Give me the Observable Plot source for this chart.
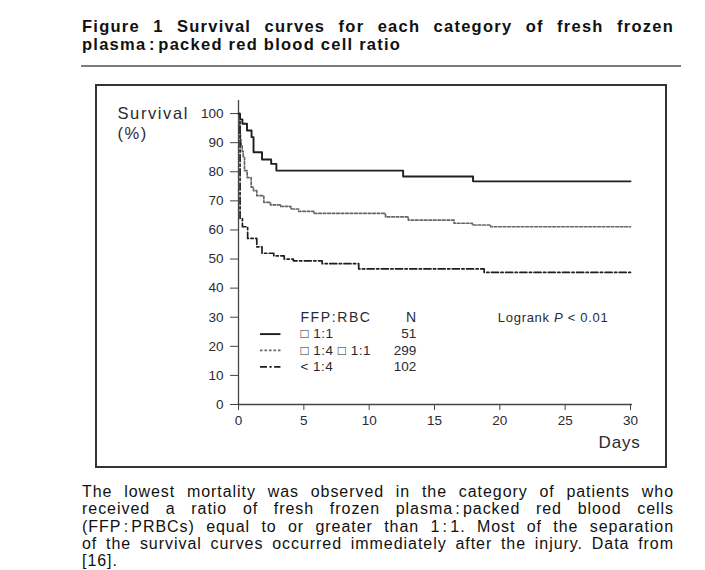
<!DOCTYPE html>
<html><head><meta charset="utf-8">
<script src="https://cdn.jsdelivr.net/npm/d3@7"></script>
<script src="https://cdn.jsdelivr.net/npm/@observablehq/plot@0.6"></script>
<style>
body{margin:0;background:#fff;width:705px;height:570px;position:relative;overflow:hidden;font-family:"Liberation Sans",Arial,Helvetica,sans-serif;color:#1a1a1a}
.jl{text-align:justify;text-align-last:justify;white-space:nowrap}
#title{position:absolute;left:82px;top:17px;width:592px;font-weight:bold;font-size:16.5px;line-height:18px;letter-spacing:1.25px;color:#111}
#rule{position:absolute;left:81px;top:65px;width:600px;height:2px;background:#7c7c7c}
#box{position:absolute;left:95px;top:84px;width:572px;height:384px;box-sizing:border-box;border:2.5px solid #333}
#chart{position:absolute;left:96px;top:85px}
#caption{position:absolute;left:82px;top:483px;width:592px;font-size:16px;line-height:17.3px;letter-spacing:0.95px;color:#111}
</style></head>
<body>
<div id="title"><div class="jl">Figure 1 Survival curves for each category of fresh frozen</div><div>plasma&#8202;:&#8202;packed red blood cell ratio</div></div>
<div id="rule"></div>
<div id="box"></div>
<div id="chart"></div>
<div id="caption">
<div class="jl">The lowest mortality was observed in the category of patients who</div>
<div class="jl">received a ratio of fresh frozen plasma&#8202;:&#8202;packed red blood cells</div>
<div class="jl">(FFP&#8202;:&#8202;PRBCs) equal to or greater than 1&#8202;:&#8202;1. Most of the separation</div>
<div class="jl">of the survival curves occurred immediately after the injury. Data from</div>
<div>[16].</div>
</div>
<script>
// ---- data ----
const xTicks = [0, 5, 10, 15, 20, 25, 30];
const yTicks = [0, 10, 20, 30, 40, 50, 60, 70, 80, 90, 100];

const solidDays = [0, 0.1, 0.3, 0.65, 1.0, 1.15, 1.8, 2.5, 2.9, 12.6, 17.95, 30];
const solidSurv = [100, 98, 96.5, 94.2, 91.9, 86.7, 84.2, 82.7, 80.4, 78.4, 76.7, 76.7];

const dottedDays = [0, 0.05, 0.1, 0.15, 0.2, 0.28, 0.36, 0.46, 0.66, 0.97, 1.15, 1.4, 1.94, 2.45, 3.2, 4.0, 4.6, 5.76, 11.25, 13, 16.5, 17.9, 19.3, 30];
const dottedSurv = [100, 96, 93, 91, 89, 87, 85, 80.4, 78, 74.7, 73.5, 71.8, 69.5, 68.6, 68.1, 67.2, 66.4, 65.7, 64.5, 63.4, 62.3, 61.7, 61.1, 61.1];

const dashDays = [0, 0.12, 0.3, 0.7, 1.4, 1.8, 2.7, 3.5, 4.2, 6.4, 9.2, 18.8, 30];
const dashSurv = [100, 64, 61.1, 57.1, 54.2, 52, 51.1, 50, 49.4, 48.4, 46.6, 45.4, 45.4];

const legendHeader = ["FFP:RBC", "N"];
const legendLabels = ["\u25A1 1:1", "\u25A1 1:4 \u25A1 1:1", "< 1:4"];
const legendN = ["51", "299", "102"];
const yAxisLabel = ["Survival", "(%)"];
const xAxisLabel = "Days";
const statText = "Logrank P < 0.01";

// ---- styles / layout ----
const series = [
  {days: solidDays, surv: solidSurv, stroke: "#1e1e1e", width: 1.9, dash: null},
  {days: dottedDays, surv: dottedSurv, stroke: "#666", width: 1.7, dash: "2.6,1.9"},
  {days: dashDays, surv: dashSurv, stroke: "#1e1e1e", width: 1.7, dash: "7,2.5,2.2,2.5"}
];
const legendLayout = {headerY: 29.9, rowY: [24.2, 18.6, 12.9], sampleX1: 1.68, sampleX2: 3.25, labelX: 4.74, nX: 13.6, statX: 19.85};
const yTop = 104.5;
const txt = "#2a2a33";

const marks = [
  Plot.axisX({ticks: xTicks, tickSize: 6, tickPadding: 5, label: null, fontSize: 13.5, stroke: "#444"}),
  Plot.axisY({ticks: yTicks, tickSize: 8, tickPadding: 7, label: null, fontSize: 13.5, stroke: "#444"}),
  Plot.ruleX([0], {y1: 0, y2: yTop, stroke: "#444", strokeWidth: 1.3}),
  Plot.ruleY([0], {x1: 0, x2: 30.15, stroke: "#444", strokeWidth: 1.3})
];
series.forEach((s, i) => {
  const data = s.days.map((d, j) => ({day: d, surv: s.surv[j]}));
  marks.push(Plot.line(data, {x: "day", y: "surv", curve: "step-after", stroke: s.stroke, strokeWidth: s.width, strokeDasharray: s.dash}));
  marks.push(Plot.ruleY([legendLayout.rowY[i]], {x1: legendLayout.sampleX1, x2: legendLayout.sampleX2, stroke: s.stroke, strokeWidth: s.width, strokeDasharray: s.dash}));
});
marks.push(
  Plot.text([legendHeader[0]], {x: legendLayout.labelX, y: legendLayout.headerY, text: d => d, textAnchor: "start", fontSize: 14, fill: txt, className: "lg"}),
  Plot.text([legendHeader[1]], {x: legendLayout.nX, y: legendLayout.headerY, text: d => d, textAnchor: "end", fontSize: 14, fill: txt}),
  Plot.text(legendLabels, {x: legendLayout.labelX, y: (d, i) => legendLayout.rowY[i], text: d => d, textAnchor: "start", fontSize: 13.5, fill: txt, className: "lr"}),
  Plot.text(legendN, {x: legendLayout.nX, y: (d, i) => legendLayout.rowY[i], text: d => d, textAnchor: "end", fontSize: 13.5, fill: txt}),
  Plot.text([statText], {x: legendLayout.statX, y: legendLayout.headerY, text: d => d, textAnchor: "start", fontSize: 13, fill: txt, className: "stat"}),
  Plot.text([yAxisLabel[0]], {frameAnchor: "top-left", dx: -121, dy: 7, text: d => d, textAnchor: "start", fontSize: 16.5, fill: txt, className: "ylab"}),
  Plot.text([yAxisLabel[1]], {frameAnchor: "top-left", dx: -121, dy: 27, text: d => d, textAnchor: "start", fontSize: 16.5, fill: txt, className: "ylab"}),
  Plot.text([xAxisLabel], {frameAnchor: "bottom-right", dx: 10, dy: 43, text: d => d, textAnchor: "end", fontSize: 17, fill: txt, className: "xlab"})
);

const chart = Plot.plot({
  width: 570, height: 382,
  marginLeft: 142, marginRight: 36, marginTop: 15, marginBottom: 63,
  style: {fontFamily: "Liberation Sans, Arial, sans-serif", color: txt, background: "transparent", overflow: "visible"},
  x: {domain: [0, 30]},
  y: {domain: [0, yTop]},
  marks
});
document.getElementById("chart").appendChild(chart);

// letter spacing & italic P
d3.select(chart).selectAll(".ylab text").style("letter-spacing", "1.6px");
d3.select(chart).selectAll(".xlab text").style("letter-spacing", "0.8px");
d3.select(chart).selectAll(".lg text").style("letter-spacing", "1.6px");
d3.select(chart).selectAll(".lr text").style("letter-spacing", "0.5px");
d3.select(chart).selectAll(".stat text").style("letter-spacing", "0.7px").each(function () {
  const t = d3.select(this);
  const s = t.text();
  const k = s.indexOf(" P ");
  t.text(null);
  t.append("tspan").text(s.slice(0, k + 1));
  t.append("tspan").style("font-style", "italic").text("P");
  t.append("tspan").text(s.slice(k + 2));
});
</script>
</body></html>
